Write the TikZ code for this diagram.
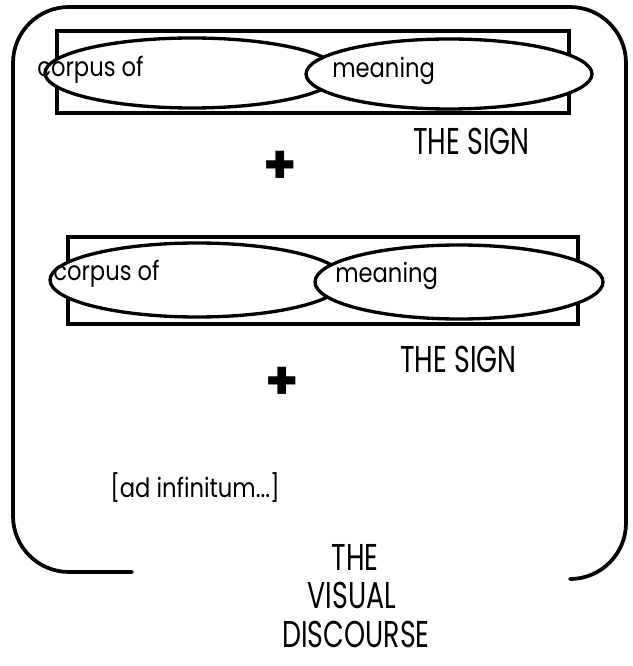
\documentclass[tikz,border=0pt]{standalone}
\usepackage{fontspec}
\usepackage{tikz}
\usetikzlibrary{shapes.geometric}
\setmainfont{Poppins}
\newfontfamily\signfont[FakeStretch=0.72]{Poppins}
\newfontfamily\wordfont[FakeStretch=0.85]{Poppins}

\begin{document}
\begin{tikzpicture}[x=0.75pt,y=-0.75pt,
  frameline/.style={line width=2.8pt,line cap=round,line join=round},
  boxline/.style={line width=2.5pt},
  lens/.style={ellipse,draw,line width=2.5pt,fill=white,inner sep=0pt},
  word/.style={anchor=base west,inner sep=0pt,font=\wordfont\fontsize{20}{24}\selectfont},
  caption/.style={anchor=base west,inner sep=0pt,font=\signfont\fontsize{28}{32}\selectfont},
  plus/.style={inner sep=0pt,font=\bfseries\fontsize{40}{40}\selectfont}]
  \useasboundingbox (0,0) rectangle (632,666);
  % outer frame
  \draw[frameline,rounded corners=42] (132,572) -- (13,572) -- (13,7) -- (626,7) -- (626,579) -- (573,579);
  % first sign
  \draw[boxline] (57,31) rectangle (569,113);
  \node[lens,minimum width=220.5pt,minimum height=52.5pt] (corpusA) at (192,73) {};
  \node[lens,minimum width=214.5pt,minimum height=52.5pt] (meaningA) at (449,74) {};
  \node[word] (corpusAtext) at (37,77) {corpus of};
  \node[word] (meaningAtext) at (332,78) {meaning};
  \node[caption] (signA) at (413,155) {THE SIGN};
  \node[plus] (plusA) at (280,167) {+};
  % second sign
  \draw[boxline] (68,237) rectangle (578,324);
  \node[lens,minimum width=220.5pt,minimum height=55.5pt] (corpusB) at (197,280) {};
  \node[lens,minimum width=216pt,minimum height=55.5pt] (meaningB) at (459,282) {};
  \node[word] (corpusBtext) at (53,280) {corpus of};
  \node[word] (meaningBtext) at (335,282) {meaning};
  \node[caption] (signB) at (400,372) {THE SIGN};
  \node[plus] (plusB) at (282,383) {+};
  % and so on
  \node[word] (infinitum) at (110,497) {[ad infinitum...]};
  \node[caption,anchor=base] (the) at (355,570) {THE};
  \node[caption,anchor=base] (visual) at (352,608) {VISUAL};
  \node[caption,anchor=base] (discourse) at (356,647) {DISCOURSE};
\end{tikzpicture}
\end{document}
